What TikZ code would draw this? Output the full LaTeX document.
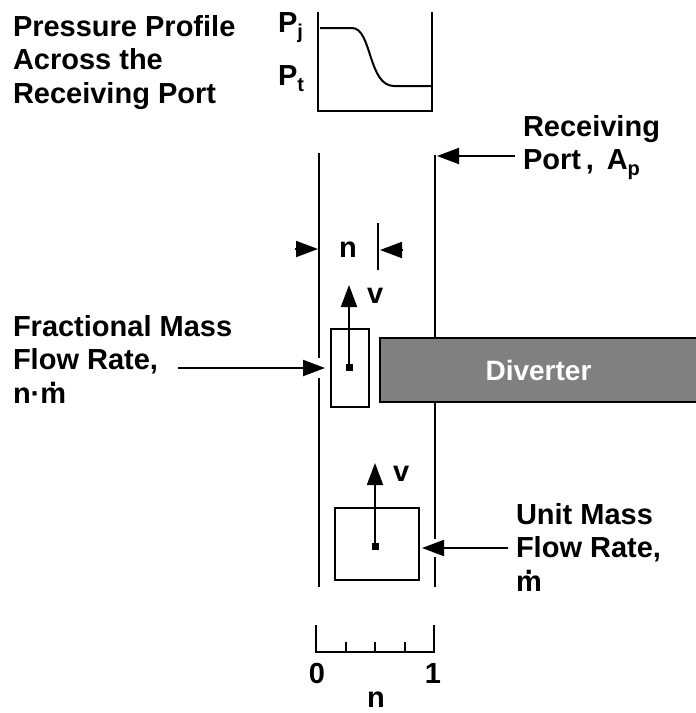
\documentclass[tikz,border=0pt]{standalone}
\usepackage{fontspec}
\setmainfont{Liberation Sans}
\usetikzlibrary{arrows.meta}

\newcommand{\lowsub}[1]{\raisebox{-0.22em}{\fontsize{20}{20}\selectfont #1}}
\newcommand{\mdot}{\ooalign{m\cr\hidewidth\smash{\raisebox{0.58em}{.}}\hidewidth\cr}}

\begin{document}
\begin{tikzpicture}[x=1pt,y=-1pt,line width=2pt,
    lbl/.style={font=\fontsize{29}{33.5}\selectfont\bfseries, inner sep=0pt, align=left},
    tip/.style={-{Triangle[length=22pt,width=16pt]}},
    parcel/.style={draw, inner sep=0pt, fill=white},
    dot/.style={fill, inner sep=0pt, minimum size=7pt}]
  % Define diverter color
  \definecolor{divgray}{RGB}{128,128,128}

  \useasboundingbox (0,0) rectangle (696,713);

  % Pressure profile across the port
  \node[lbl, anchor=north west] (title) at (12,14) {Pressure Profile\\Across the\\Receiving Port};
  \draw (318,12) -- (318,111) -- (432,111) -- (432,12);
  \draw (320,28) -- (352,28) .. controls (372,28) and (368,86) .. (394,86) -- (431,86);
  \node[lbl, anchor=base west] (pj) at (277,32) {P\lowsub{j}};
  \node[lbl, anchor=base west] (pt) at (277,85) {P\lowsub{t}};

  % Channel walls
  \draw (319,153) -- (319,358);
  \draw (319,378) -- (319,587);
  \draw (435,155) -- (435,539);
  \draw (435,557) -- (435,587);

  % Receiving port
  \node[lbl, anchor=north west] (port) at (522,114) {Receiving\\Port\,, \,A\lowsub{p}};
  \coordinate (rpend) at (515,156);
  \coordinate (rptip) at (437,156);
  \draw[tip] (rpend) -- (rptip);

  % Width n of the cut
  \coordinate (nl) at (295,249);
  \coordinate (nlt) at (318,249);
  \coordinate (nr) at (403,250);
  \coordinate (nrt) at (380,250);
  \draw[tip] (nl) -- (nlt);
  \draw (378,223) -- (378,270);
  \draw[tip] (nr) -- (nrt);
  \node[lbl, anchor=base] (dimn) at (348,257) {n};

  % Diverter
  \node[draw, fill=divgray, minimum width=317pt, minimum height=64pt, inner sep=0pt,
    text=white, font=\fontsize{28}{28}\selectfont\bfseries] (divert) at (538.5,370) {Diverter};

  % Fractional parcel
  \node[parcel, minimum width=38pt, minimum height=78pt] (fbox) at (350,367.5) {};
  \node[dot] (fdot) at (349,367) {};
  \coordinate (fv) at (349,285);
  \draw[tip] (fdot.center) -- (fv);
  \node[lbl, anchor=base west] (fvl) at (366,303) {v};
  \node[lbl, anchor=north west] (frac) at (12,314) {Fractional Mass\\Flow Rate,\\n·\mdot};
  \coordinate (fend) at (178,368);
  \coordinate (ftip) at (325,368);
  \draw[tip] (fend) -- (ftip);

  % Unit parcel
  \node[parcel, minimum width=84pt, minimum height=72pt] (ubox) at (376.5,544) {};
  \node[dot] (udot) at (375,546) {};
  \coordinate (uv) at (375,463);
  \draw[tip] (udot.center) -- (uv);
  \node[lbl, anchor=base west] (uvl) at (392,481) {v};
  \node[lbl, anchor=north west] (unit) at (515,502) {Unit Mass\\Flow Rate,\\\mdot};
  \coordinate (uend) at (508,548);
  \coordinate (utip) at (422,548);
  \draw[tip] (uend) -- (utip);

  % Scale for n
  \draw (316,625) -- (316,652) -- (434,652) -- (434,625);
  \foreach \i in {1,2,3}
    \draw (316+29.5*\i,652) -- (316+29.5*\i,642);
  \node[lbl, anchor=base] (zero) at (317,683) {0};
  \node[lbl, anchor=base] (one) at (433,683) {1};
  \node[lbl, anchor=base] (nlab) at (376,707) {n};
\end{tikzpicture}
\end{document}
